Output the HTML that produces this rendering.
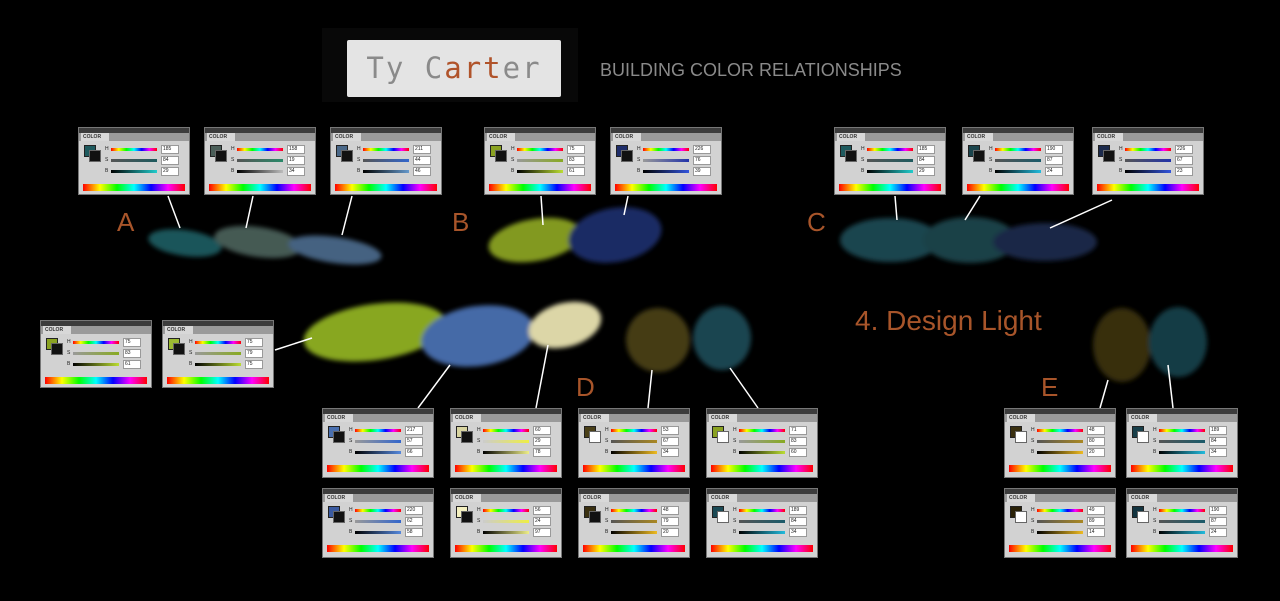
<!DOCTYPE html>
<html><head><meta charset="utf-8">
<style>
body{margin:0;background:#000;width:1280px;height:601px;overflow:hidden;position:relative;font-family:"Liberation Sans",sans-serif}
.p{position:absolute;width:112px;height:68px;background:#d2d2d2;border:1px solid #777;box-sizing:border-box;overflow:hidden}
.p .tb{position:absolute;left:0;top:0;right:0;height:5px;background:#3c3c3c}
.p .tr{position:absolute;left:0;top:5px;right:0;height:8px;background:#9a9a9a}
.p .tab{position:absolute;left:2px;top:5px;width:26px;height:8px;background:#d8d8d8;font-size:5px;line-height:8px;font-weight:bold;color:#333;padding-left:2px}
.p .s1{position:absolute;left:5px;top:17px;width:10px;height:10px;border:1px solid #222}
.p .s2{position:absolute;left:10px;top:22px;width:10px;height:10px;background:#111;border:1px solid #666}
.p .l{position:absolute;left:26px;font-size:5px;color:#222}
.p .g{position:absolute;left:32px;width:46px;height:3px}
.p .v{position:absolute;left:82px;width:15px;height:7px;background:#fff;border:1px solid #999;font-size:5px;line-height:7px;padding-left:1px;color:#222}
.p .sp{position:absolute;left:4px;right:4px;top:56px;height:7px;background:linear-gradient(90deg,#f00,#ff0,#0f0,#0ff,#00f,#f0f,#f00)}
.hue{background:linear-gradient(90deg,#f00,#ff0,#0f0,#0ff,#00f,#f0f,#f00)}
.lab{position:absolute;color:#a8552a;font-size:26px}
</style></head><body>
<svg width="1280" height="601" style="position:absolute;left:0;top:0">
<defs><filter id="b" x="-20%" y="-40%" width="140%" height="180%"><feGaussianBlur stdDeviation="2.5"/></filter></defs>
<rect x="322" y="28" width="256" height="74" fill="#080808"/>
<g filter="url(#b)" opacity="0.95">
<ellipse cx="185" cy="243" rx="37" ry="13" fill="#1e5a5e" transform="rotate(8 185 243)"/>
<ellipse cx="258" cy="242" rx="44" ry="15" fill="#4a5e58" transform="rotate(8 258 242)"/>
<ellipse cx="335" cy="250" rx="47" ry="13" fill="#4a6888" transform="rotate(8 335 250)"/>
<ellipse cx="535" cy="240" rx="47" ry="21" fill="#8aa222" transform="rotate(-10 535 240)"/>
<ellipse cx="615" cy="235" rx="47" ry="27" fill="#1e2d6a" transform="rotate(-10 615 235)"/>
<ellipse cx="890" cy="240" rx="50" ry="22" fill="#1a4a52"/>
<ellipse cx="970" cy="240" rx="47" ry="23" fill="#1a444c"/>
<ellipse cx="1045" cy="242" rx="52" ry="19" fill="#1c2a4c"/>
<ellipse cx="375" cy="332" rx="72" ry="28" fill="#90b022" transform="rotate(-8 375 332)"/>
<ellipse cx="478" cy="336" rx="57" ry="30" fill="#4a70b0" transform="rotate(-8 478 336)"/>
<ellipse cx="565" cy="325" rx="37" ry="22" fill="#e8e2b0" transform="rotate(-15 565 325)"/>
<ellipse cx="658" cy="340" rx="32" ry="32" fill="#4a4018"/>
<ellipse cx="722" cy="338" rx="29" ry="32" fill="#1a4a55"/>
<ellipse cx="1122" cy="345" rx="29" ry="37" fill="#3a3010"/>
<ellipse cx="1178" cy="342" rx="29" ry="35" fill="#183f4a"/>
</g>
<g stroke="#fff" stroke-width="1.5" fill="none">
<line x1="168" y1="196" x2="180" y2="228"/><line x1="253" y1="196" x2="246" y2="228"/><line x1="352" y1="196" x2="342" y2="235"/>
<line x1="541" y1="196" x2="543" y2="225"/><line x1="628" y1="196" x2="624" y2="215"/>
<line x1="895" y1="196" x2="897" y2="220"/><line x1="980" y1="196" x2="965" y2="220"/><line x1="1112" y1="200" x2="1050" y2="228"/>
<line x1="275" y1="350" x2="312" y2="338"/><line x1="418" y1="408" x2="450" y2="365"/><line x1="536" y1="408" x2="548" y2="345"/>
<line x1="648" y1="408" x2="652" y2="370"/><line x1="758" y1="408" x2="730" y2="368"/>
<line x1="1100" y1="408" x2="1108" y2="380"/><line x1="1173" y1="408" x2="1168" y2="365"/>
</g>
</svg>
<div style="position:absolute;left:347px;top:40px;width:214px;height:57px;background:#e4e4e4;border-radius:2px;font-family:'DejaVu Sans Mono','Liberation Mono',monospace;font-size:29px;line-height:57px;text-align:center;letter-spacing:2px;color:#8a8a8a">Ty C<span style="color:#b0532a">art</span>er</div>
<div style="position:absolute;left:600px;top:60px;font-size:18px;color:#8a8a8a">BUILDING COLOR RELATIONSHIPS</div>
<div class="lab" style="left:117px;top:207px">A</div>
<div class="lab" style="left:452px;top:207px">B</div>
<div class="lab" style="left:807px;top:207px">C</div>
<div class="lab" style="left:576px;top:372px">D</div>
<div class="lab" style="left:1041px;top:372px">E</div>
<div class="lab" style="left:855px;top:305px;font-size:28px">4. Design Light</div>

<div class="p" style="left:78px;top:127px"><div class="tb"></div><div class="tr"></div><div class="tab">COLOR</div><div class="s1" style="background:#1e5a5e"></div><div class="s2"></div><div class="l" style="top:18px">H</div><div class="g hue" style="top:20px"></div><div class="v" style="top:17px">185</div><div class="l" style="top:29px">S</div><div class="g" style="top:31px;background:linear-gradient(90deg,#555,#1e5a5e)"></div><div class="v" style="top:28px">84</div><div class="l" style="top:40px">B</div><div class="g" style="top:42px;background:linear-gradient(90deg,#000,#2cc)"></div><div class="v" style="top:39px">29</div><div class="sp"></div></div>
<div class="p" style="left:204px;top:127px"><div class="tb"></div><div class="tr"></div><div class="tab">COLOR</div><div class="s1" style="background:#4a5e58"></div><div class="s2"></div><div class="l" style="top:18px">H</div><div class="g hue" style="top:20px"></div><div class="v" style="top:17px">158</div><div class="l" style="top:29px">S</div><div class="g" style="top:31px;background:linear-gradient(90deg,#555,#2a8a6a)"></div><div class="v" style="top:28px">19</div><div class="l" style="top:40px">B</div><div class="g" style="top:42px;background:linear-gradient(90deg,#000,#bbb)"></div><div class="v" style="top:39px">34</div><div class="sp"></div></div>
<div class="p" style="left:330px;top:127px"><div class="tb"></div><div class="tr"></div><div class="tab">COLOR</div><div class="s1" style="background:#4a6888"></div><div class="s2"></div><div class="l" style="top:18px">H</div><div class="g hue" style="top:20px"></div><div class="v" style="top:17px">211</div><div class="l" style="top:29px">S</div><div class="g" style="top:31px;background:linear-gradient(90deg,#555,#36c)"></div><div class="v" style="top:28px">44</div><div class="l" style="top:40px">B</div><div class="g" style="top:42px;background:linear-gradient(90deg,#000,#69c)"></div><div class="v" style="top:39px">46</div><div class="sp"></div></div>
<div class="p" style="left:484px;top:127px"><div class="tb"></div><div class="tr"></div><div class="tab">COLOR</div><div class="s1" style="background:#8aa222"></div><div class="s2"></div><div class="l" style="top:18px">H</div><div class="g hue" style="top:20px"></div><div class="v" style="top:17px">75</div><div class="l" style="top:29px">S</div><div class="g" style="top:31px;background:linear-gradient(90deg,#999,#8a2)"></div><div class="v" style="top:28px">83</div><div class="l" style="top:40px">B</div><div class="g" style="top:42px;background:linear-gradient(90deg,#000,#bd3)"></div><div class="v" style="top:39px">61</div><div class="sp"></div></div>
<div class="p" style="left:610px;top:127px"><div class="tb"></div><div class="tr"></div><div class="tab">COLOR</div><div class="s1" style="background:#1e2d6a"></div><div class="s2"></div><div class="l" style="top:18px">H</div><div class="g hue" style="top:20px"></div><div class="v" style="top:17px">226</div><div class="l" style="top:29px">S</div><div class="g" style="top:31px;background:linear-gradient(90deg,#999,#23a)"></div><div class="v" style="top:28px">76</div><div class="l" style="top:40px">B</div><div class="g" style="top:42px;background:linear-gradient(90deg,#000,#35d)"></div><div class="v" style="top:39px">39</div><div class="sp"></div></div>
<div class="p" style="left:834px;top:127px"><div class="tb"></div><div class="tr"></div><div class="tab">COLOR</div><div class="s1" style="background:#1e5a5e"></div><div class="s2"></div><div class="l" style="top:18px">H</div><div class="g hue" style="top:20px"></div><div class="v" style="top:17px">185</div><div class="l" style="top:29px">S</div><div class="g" style="top:31px;background:linear-gradient(90deg,#555,#1e5a5e)"></div><div class="v" style="top:28px">84</div><div class="l" style="top:40px">B</div><div class="g" style="top:42px;background:linear-gradient(90deg,#000,#2cc)"></div><div class="v" style="top:39px">29</div><div class="sp"></div></div>
<div class="p" style="left:962px;top:127px"><div class="tb"></div><div class="tr"></div><div class="tab">COLOR</div><div class="s1" style="background:#1a444c"></div><div class="s2"></div><div class="l" style="top:18px">H</div><div class="g hue" style="top:20px"></div><div class="v" style="top:17px">190</div><div class="l" style="top:29px">S</div><div class="g" style="top:31px;background:linear-gradient(90deg,#555,#1a5a6a)"></div><div class="v" style="top:28px">87</div><div class="l" style="top:40px">B</div><div class="g" style="top:42px;background:linear-gradient(90deg,#000,#2bd)"></div><div class="v" style="top:39px">24</div><div class="sp"></div></div>
<div class="p" style="left:1092px;top:127px"><div class="tb"></div><div class="tr"></div><div class="tab">COLOR</div><div class="s1" style="background:#1c2a4c"></div><div class="s2"></div><div class="l" style="top:18px">H</div><div class="g hue" style="top:20px"></div><div class="v" style="top:17px">226</div><div class="l" style="top:29px">S</div><div class="g" style="top:31px;background:linear-gradient(90deg,#555,#23a)"></div><div class="v" style="top:28px">67</div><div class="l" style="top:40px">B</div><div class="g" style="top:42px;background:linear-gradient(90deg,#000,#35d)"></div><div class="v" style="top:39px">23</div><div class="sp"></div></div>

<div class="p" style="left:40px;top:320px"><div class="tb"></div><div class="tr"></div><div class="tab">COLOR</div><div class="s1" style="background:#8aa222"></div><div class="s2"></div><div class="l" style="top:18px">H</div><div class="g hue" style="top:20px"></div><div class="v" style="top:17px">75</div><div class="l" style="top:29px">S</div><div class="g" style="top:31px;background:linear-gradient(90deg,#999,#8a2)"></div><div class="v" style="top:28px">83</div><div class="l" style="top:40px">B</div><div class="g" style="top:42px;background:linear-gradient(90deg,#000,#bd3)"></div><div class="v" style="top:39px">61</div><div class="sp"></div></div>
<div class="p" style="left:162px;top:320px"><div class="tb"></div><div class="tr"></div><div class="tab">COLOR</div><div class="s1" style="background:#9ab832"></div><div class="s2"></div><div class="l" style="top:18px">H</div><div class="g hue" style="top:20px"></div><div class="v" style="top:17px">75</div><div class="l" style="top:29px">S</div><div class="g" style="top:31px;background:linear-gradient(90deg,#999,#8a2)"></div><div class="v" style="top:28px">79</div><div class="l" style="top:40px">B</div><div class="g" style="top:42px;background:linear-gradient(90deg,#000,#bd3)"></div><div class="v" style="top:39px">75</div><div class="sp"></div></div>

<div class="p" style="left:322px;top:408px;height:70px"><div class="tb"></div><div class="tr"></div><div class="tab">COLOR</div><div class="s1" style="background:#4a70b0"></div><div class="s2"></div><div class="l" style="top:18px">H</div><div class="g hue" style="top:20px"></div><div class="v" style="top:17px">217</div><div class="l" style="top:29px">S</div><div class="g" style="top:31px;background:linear-gradient(90deg,#999,#36c)"></div><div class="v" style="top:28px">57</div><div class="l" style="top:40px">B</div><div class="g" style="top:42px;background:linear-gradient(90deg,#000,#58d)"></div><div class="v" style="top:39px">66</div><div class="sp"></div></div>
<div class="p" style="left:450px;top:408px;height:70px"><div class="tb"></div><div class="tr"></div><div class="tab">COLOR</div><div class="s1" style="background:#d8d4a0"></div><div class="s2"></div><div class="l" style="top:18px">H</div><div class="g hue" style="top:20px"></div><div class="v" style="top:17px">60</div><div class="l" style="top:29px">S</div><div class="g" style="top:31px;background:linear-gradient(90deg,#ccc,#ee4)"></div><div class="v" style="top:28px">29</div><div class="l" style="top:40px">B</div><div class="g" style="top:42px;background:linear-gradient(90deg,#000,#ee8)"></div><div class="v" style="top:39px">78</div><div class="sp"></div></div>
<div class="p" style="left:578px;top:408px;height:70px"><div class="tb"></div><div class="tr"></div><div class="tab">COLOR</div><div class="s1" style="background:#4a4018"></div><div class="s2" style="background:#fff"></div><div class="l" style="top:18px">H</div><div class="g hue" style="top:20px"></div><div class="v" style="top:17px">53</div><div class="l" style="top:29px">S</div><div class="g" style="top:31px;background:linear-gradient(90deg,#555,#a82)"></div><div class="v" style="top:28px">67</div><div class="l" style="top:40px">B</div><div class="g" style="top:42px;background:linear-gradient(90deg,#000,#eb2)"></div><div class="v" style="top:39px">34</div><div class="sp"></div></div>
<div class="p" style="left:706px;top:408px;height:70px"><div class="tb"></div><div class="tr"></div><div class="tab">COLOR</div><div class="s1" style="background:#8aa222"></div><div class="s2" style="background:#fff"></div><div class="l" style="top:18px">H</div><div class="g hue" style="top:20px"></div><div class="v" style="top:17px">71</div><div class="l" style="top:29px">S</div><div class="g" style="top:31px;background:linear-gradient(90deg,#999,#8a2)"></div><div class="v" style="top:28px">83</div><div class="l" style="top:40px">B</div><div class="g" style="top:42px;background:linear-gradient(90deg,#000,#bd3)"></div><div class="v" style="top:39px">60</div><div class="sp"></div></div>

<div class="p" style="left:322px;top:488px;height:70px"><div class="tb"></div><div class="tr"></div><div class="tab">COLOR</div><div class="s1" style="background:#3a5aa0"></div><div class="s2"></div><div class="l" style="top:18px">H</div><div class="g hue" style="top:20px"></div><div class="v" style="top:17px">220</div><div class="l" style="top:29px">S</div><div class="g" style="top:31px;background:linear-gradient(90deg,#999,#36c)"></div><div class="v" style="top:28px">62</div><div class="l" style="top:40px">B</div><div class="g" style="top:42px;background:linear-gradient(90deg,#000,#58d)"></div><div class="v" style="top:39px">58</div><div class="sp"></div></div>
<div class="p" style="left:450px;top:488px;height:70px"><div class="tb"></div><div class="tr"></div><div class="tab">COLOR</div><div class="s1" style="background:#f4f0c0"></div><div class="s2"></div><div class="l" style="top:18px">H</div><div class="g hue" style="top:20px"></div><div class="v" style="top:17px">56</div><div class="l" style="top:29px">S</div><div class="g" style="top:31px;background:linear-gradient(90deg,#ccc,#ee4)"></div><div class="v" style="top:28px">24</div><div class="l" style="top:40px">B</div><div class="g" style="top:42px;background:linear-gradient(90deg,#000,#ee8)"></div><div class="v" style="top:39px">97</div><div class="sp"></div></div>
<div class="p" style="left:578px;top:488px;height:70px"><div class="tb"></div><div class="tr"></div><div class="tab">COLOR</div><div class="s1" style="background:#3a3010"></div><div class="s2"></div><div class="l" style="top:18px">H</div><div class="g hue" style="top:20px"></div><div class="v" style="top:17px">48</div><div class="l" style="top:29px">S</div><div class="g" style="top:31px;background:linear-gradient(90deg,#555,#a82)"></div><div class="v" style="top:28px">79</div><div class="l" style="top:40px">B</div><div class="g" style="top:42px;background:linear-gradient(90deg,#000,#eb2)"></div><div class="v" style="top:39px">20</div><div class="sp"></div></div>
<div class="p" style="left:706px;top:488px;height:70px"><div class="tb"></div><div class="tr"></div><div class="tab">COLOR</div><div class="s1" style="background:#1a4a55"></div><div class="s2" style="background:#fff"></div><div class="l" style="top:18px">H</div><div class="g hue" style="top:20px"></div><div class="v" style="top:17px">189</div><div class="l" style="top:29px">S</div><div class="g" style="top:31px;background:linear-gradient(90deg,#555,#1a5a6a)"></div><div class="v" style="top:28px">84</div><div class="l" style="top:40px">B</div><div class="g" style="top:42px;background:linear-gradient(90deg,#000,#2bd)"></div><div class="v" style="top:39px">34</div><div class="sp"></div></div>

<div class="p" style="left:1004px;top:408px;height:70px"><div class="tb"></div><div class="tr"></div><div class="tab">COLOR</div><div class="s1" style="background:#3a3010"></div><div class="s2" style="background:#fff"></div><div class="l" style="top:18px">H</div><div class="g hue" style="top:20px"></div><div class="v" style="top:17px">48</div><div class="l" style="top:29px">S</div><div class="g" style="top:31px;background:linear-gradient(90deg,#555,#a82)"></div><div class="v" style="top:28px">80</div><div class="l" style="top:40px">B</div><div class="g" style="top:42px;background:linear-gradient(90deg,#000,#eb2)"></div><div class="v" style="top:39px">20</div><div class="sp"></div></div>
<div class="p" style="left:1126px;top:408px;height:70px"><div class="tb"></div><div class="tr"></div><div class="tab">COLOR</div><div class="s1" style="background:#183f4a"></div><div class="s2" style="background:#fff"></div><div class="l" style="top:18px">H</div><div class="g hue" style="top:20px"></div><div class="v" style="top:17px">189</div><div class="l" style="top:29px">S</div><div class="g" style="top:31px;background:linear-gradient(90deg,#555,#1a5a6a)"></div><div class="v" style="top:28px">84</div><div class="l" style="top:40px">B</div><div class="g" style="top:42px;background:linear-gradient(90deg,#000,#2bd)"></div><div class="v" style="top:39px">34</div><div class="sp"></div></div>
<div class="p" style="left:1004px;top:488px;height:70px"><div class="tb"></div><div class="tr"></div><div class="tab">COLOR</div><div class="s1" style="background:#2a2208"></div><div class="s2" style="background:#fff"></div><div class="l" style="top:18px">H</div><div class="g hue" style="top:20px"></div><div class="v" style="top:17px">49</div><div class="l" style="top:29px">S</div><div class="g" style="top:31px;background:linear-gradient(90deg,#555,#a82)"></div><div class="v" style="top:28px">89</div><div class="l" style="top:40px">B</div><div class="g" style="top:42px;background:linear-gradient(90deg,#000,#eb2)"></div><div class="v" style="top:39px">14</div><div class="sp"></div></div>
<div class="p" style="left:1126px;top:488px;height:70px"><div class="tb"></div><div class="tr"></div><div class="tab">COLOR</div><div class="s1" style="background:#123440"></div><div class="s2" style="background:#fff"></div><div class="l" style="top:18px">H</div><div class="g hue" style="top:20px"></div><div class="v" style="top:17px">190</div><div class="l" style="top:29px">S</div><div class="g" style="top:31px;background:linear-gradient(90deg,#555,#1a5a6a)"></div><div class="v" style="top:28px">87</div><div class="l" style="top:40px">B</div><div class="g" style="top:42px;background:linear-gradient(90deg,#000,#2bd)"></div><div class="v" style="top:39px">24</div><div class="sp"></div></div>
</body></html>
